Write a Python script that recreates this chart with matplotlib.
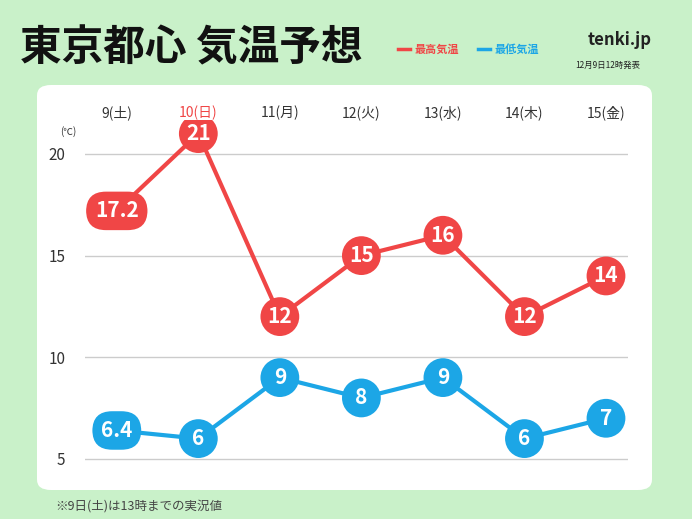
import matplotlib
matplotlib.use("Agg")
import matplotlib.pyplot as plt
from matplotlib.patches import FancyBboxPatch

plt.rcParams["font.family"] = "Noto Sans CJK JP"

days = ["9(土)", "10(日)", "11(月)", "12(火)", "13(水)", "14(木)", "15(金)"]
high = [17.2, 21, 12, 15, 16, 12, 14]
low = [6.4, 6, 9, 8, 9, 6, 7]
high_labels = ["17.2", "21", "12", "15", "16", "12", "14"]
low_labels = ["6.4", "6", "9", "8", "9", "6", "7"]
yticks = [5, 10, 15, 20]

RED = "#f04646"
BLUE = "#1ca6e6"
W, H = 692, 519
fig = plt.figure(figsize=(W/100, H/100), dpi=100)
fig.patch.set_facecolor("#c9f1c9")

panel = FancyBboxPatch((37/W, (H-490)/H), 615/W, 405/H,
                       boxstyle="round,pad=0,rounding_size=0.02",
                       transform=fig.transFigure, facecolor="white", edgecolor="none", zorder=-5)
fig.patches.append(panel)

fig.text(20/W, 1-48/H, "東京都心 気温予想", fontsize=30, fontweight="bold", va="center", ha="left", color="#111")
fig.lines.append(plt.Line2D([398/W, 410/W], [1-49/H]*2, transform=fig.transFigure, color=RED, lw=2.5))
fig.text(415/W, 1-49/H, "最高気温", fontsize=8, color=RED, va="center", fontweight="bold")
fig.lines.append(plt.Line2D([478/W, 490/W], [1-49/H]*2, transform=fig.transFigure, color=BLUE, lw=2.5))
fig.text(495/W, 1-49/H, "最低気温", fontsize=8, color=BLUE, va="center", fontweight="bold")
fig.text(588/W, 1-40/H, "tenki.jp", fontsize=12, fontweight="bold", va="center", color="#222")
fig.text(608/W, 1-65/H, "12月9日12時発表", fontsize=6, ha="center", va="center", color="#222")
fig.text(55/W, 1-506/H, "※9日(土)は13時までの実況値", fontsize=9, va="center", color="#444")

ax = fig.add_axes([85/W, (H-475)/H, 543/W, 355/H])
ax.set_facecolor("none")
ax.set_xlim(-0.39, 6.27)
ax.set_ylim(4.21, 21.67)
for s in ax.spines.values():
    s.set_visible(False)
ax.set_xticks([])
ax.set_yticks(yticks)
ax.tick_params(axis="y", length=0, labelsize=11, colors="#333", pad=14)
for y in yticks:
    ax.axhline(y, color="#cccccc", lw=1, zorder=0)
x = list(range(len(days)))
ax.text(-0.6, 21.1, "(℃)", fontsize=7, ha="center", va="center", color="#333")
for i, d in enumerate(days):
    ax.text(i, 1, d, transform=ax.get_xaxis_transform(), ha="center", va="bottom",
            fontsize=10, color=RED if i == 1 else "#333")

for vals, labels, c in [(high, high_labels, RED), (low, low_labels, BLUE)]:
    ax.plot(x, vals, color=c, lw=3, zorder=2)
    for i, (v, l) in enumerate(zip(vals, labels)):
        if "." in l:
            ax.text(i, v, l, ha="center", va="center", fontsize=15, fontweight="bold", color="white", zorder=4,
                    bbox=dict(boxstyle="round,pad=0.42,rounding_size=0.95", fc=c, ec="none"))
        else:
            ax.scatter([i], [v], s=780, color=c, zorder=3, edgecolors="none")
            ax.text(i, v, l, ha="center", va="center", fontsize=15, fontweight="bold", color="white", zorder=4)

fig.savefig("out.png", dpi=100, facecolor=fig.get_facecolor())
